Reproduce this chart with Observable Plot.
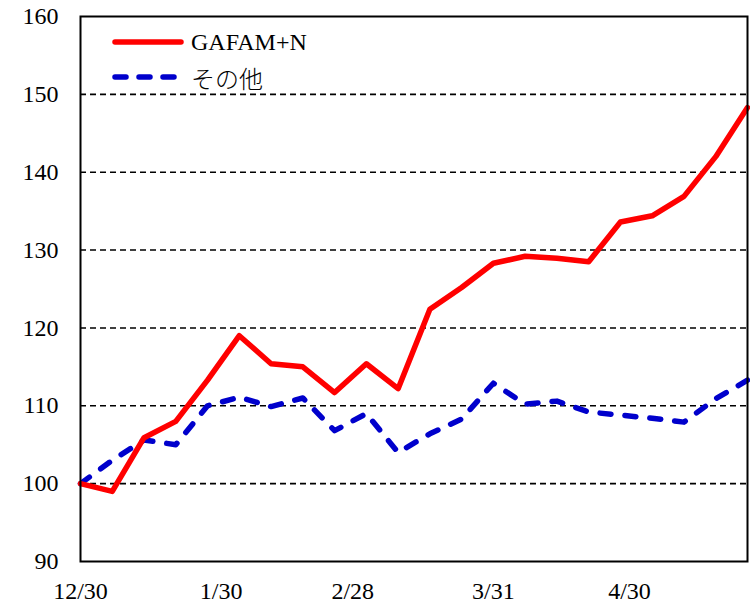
<!DOCTYPE html>
<html><head><meta charset="utf-8">
<script src="https://cdn.jsdelivr.net/npm/d3@7"></script>
<script src="https://cdn.jsdelivr.net/npm/@observablehq/plot@0.6"></script>
<style>
body{margin:0;background:#fff;}
#wrap{position:relative;width:750px;height:603px;}
.lg{position:absolute;left:111px;height:30px;display:flex;align-items:center;font-family:"Liberation Serif","DejaVu Serif",serif;font-size:24px;color:#000;}
.lg svg{margin-right:6px;}
.jp{font-family:"Noto Sans CJK JP",sans-serif;font-weight:300;}
</style></head><body><div id="wrap"></div>
<script>
const dates = ["2022-12-30","2023-01-06","2023-01-13","2023-01-20","2023-01-27","2023-02-03","2023-02-10","2023-02-17","2023-02-24","2023-03-03","2023-03-10","2023-03-17","2023-03-24","2023-03-31","2023-04-07","2023-04-14","2023-04-21","2023-04-28","2023-05-05","2023-05-12","2023-05-19","2023-05-26"];
const gafam = [100, 99.0, 105.9, 108.0, 113.3, 119.0, 115.4, 115.0, 111.7, 115.4, 112.2, 122.4, 125.2, 128.3, 129.2, 128.95, 128.5, 133.6, 134.4, 136.9, 142.0, 148.3];
const others = [100, 103.0, 105.6, 105.0, 110.0, 111.1, 109.9, 111.0, 106.8, 109.0, 104.0, 106.4, 108.3, 112.9, 110.2, 110.6, 109.2, 108.8, 108.4, 107.9, 110.9, 113.3];
const seriesNames = ["GAFAM+N", "その他"];
const xTickDates = ["2022-12-30","2023-01-30","2023-02-28","2023-03-31","2023-04-30"];
const yTicks = [90, 100, 110, 120, 130, 140, 150, 160];
const gridValues = [100, 110, 120, 130, 140, 150];

const parse = d3.utcParse("%Y-%m-%d");
const rowsA = dates.map((d, i) => ({date: parse(d), value: gafam[i]}));
const rowsB = dates.map((d, i) => ({date: parse(d), value: others[i]}));
const fmt = d3.utcFormat("%-m/%-d");
const serif = '"Liberation Serif","DejaVu Serif",serif';

const chart = Plot.plot({
  width: 750,
  height: 603,
  marginLeft: 80,
  marginRight: 3,
  marginTop: 16,
  marginBottom: 42,
  style: {fontFamily: serif, fontSize: "24px", color: "#000", background: "#fff"},
  x: {type: "utc", domain: [parse(dates[0]), parse(dates[dates.length - 1])], label: null},
  y: {domain: [90, 160], label: null},
  marks: [
    Plot.ruleY(gridValues, {stroke: "#000", strokeWidth: 1.6, strokeDasharray: "6,4"}),
    Plot.line(rowsB, {x: "date", y: "value", stroke: "#0000cc", strokeWidth: 5.5, strokeDasharray: "11,14", strokeLinecap: "round", strokeLinejoin: "round"}),
    Plot.line(rowsA, {x: "date", y: "value", stroke: "#ff0000", strokeWidth: 5.5, strokeLinejoin: "round"}),
    Plot.frame({stroke: "#000", strokeWidth: 2}),
    Plot.axisY(yTicks, {tickSize: 0, tickPadding: 22, fontSize: 24, fontFamily: serif, label: null}),
    Plot.axisX(xTickDates.map(parse), {tickSize: 0, tickPadding: 20, tickFormat: fmt, fontSize: 24, fontFamily: serif, label: null})
  ]
});
d3.select(chart).selectAll("text")
  .style("font-family", serif)
  .style("font-size", "24px")
  .attr("font-size", 24);
const wrap = document.getElementById("wrap");
wrap.appendChild(chart);

const legendItems = [
  {name: seriesNames[0], color: "#ff0000", dash: null, top: 27, cls: ""},
  {name: seriesNames[1], color: "#0000cc", dash: "11,13", top: 62, cls: "jp"}
];
legendItems.forEach(it => {
  const div = document.createElement("div");
  div.className = "lg";
  div.style.top = it.top + "px";
  div.innerHTML = `<svg width="74" height="10"><line x1="4" y1="5" x2="70" y2="5" stroke="${it.color}" stroke-width="5.5" stroke-linecap="round" ${it.dash ? `stroke-dasharray="${it.dash}"` : ""}/></svg><span class="${it.cls}">${it.name}</span>`;
  wrap.appendChild(div);
});
</script>
</body></html>
